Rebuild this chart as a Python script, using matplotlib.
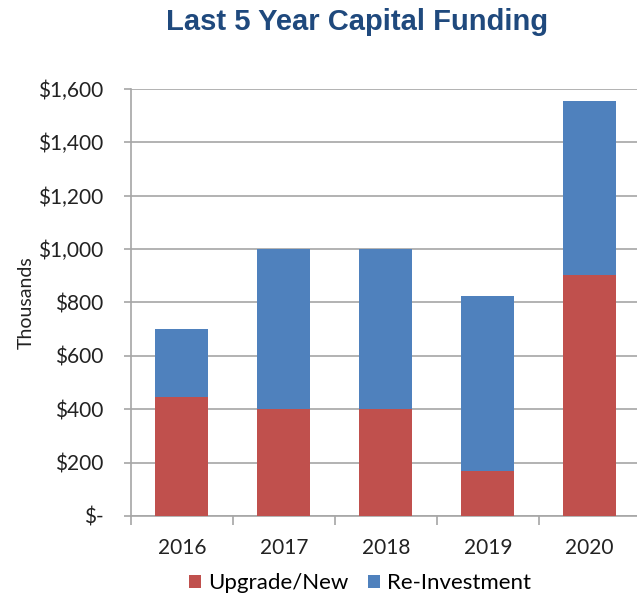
import numpy as np
import matplotlib
matplotlib.use("Agg")
import matplotlib.pyplot as plt
from matplotlib.ticker import FuncFormatter, FixedLocator

years = ["2016", "2017", "2018", "2019", "2020"]
upgrade_new = [446, 400, 400, 169, 903]
re_investment = [254, 600, 600, 655, 651]

red = "#C0504D"
blue = "#4F81BD"
grid_c = "#A6A6A6"

plt.rcParams['font.family'] = ['Lato', 'DejaVu Sans']

fig = plt.figure(figsize=(6.37, 5.97), dpi=100)
ax = fig.add_axes([0.2057, 0.1357, 0.80, 0.7152])

x = np.arange(len(years))
ax.bar(x, upgrade_new, width=0.52, color=red, label="Upgrade/New", zorder=3)
ax.bar(x, re_investment, width=0.52, bottom=upgrade_new, color=blue,
       label="Re-Investment", zorder=3)

ax.set_xlim(-0.5, 4.5)
ax.set_ylim(0, 1600)
ax.set_yticks(np.arange(0, 1601, 200))
ax.yaxis.set_major_formatter(FuncFormatter(lambda v, p: "$-" if v == 0 else "${:,.0f}".format(v)))
ax.grid(axis="y", color=grid_c, linewidth=1.2, zorder=0)

ax.set_xticks(x)
ax.set_xticklabels(years)
ax.xaxis.set_minor_locator(FixedLocator(np.arange(-0.5, 5.0, 1.0)))
ax.tick_params(axis="x", which="major", length=0, pad=16, labelsize=15, colors="#222222")
ax.tick_params(axis="x", which="minor", length=6.5, width=1.2, color=grid_c)
ax.tick_params(axis="y", length=5, width=1.2, color=grid_c, labelsize=15,
               labelcolor="#222222", pad=15)

for s in ["top", "right"]:
    ax.spines[s].set_visible(False)
for s in ["left", "bottom"]:
    ax.spines[s].set_color(grid_c)
    ax.spines[s].set_linewidth(1.2)

ax.set_ylabel("Thousands", fontsize=14, color="#222222", labelpad=2)

fig.text(0.561, 0.963, "Last 5 Year Capital Funding", ha="center", va="center",
         fontsize=21, fontweight="bold", color="#1F497D",
         family=['Liberation Sans Narrow', 'Liberation Sans', 'DejaVu Sans'])

fig.legend(loc="center", bbox_to_anchor=(0.565, 0.023), ncol=2, frameon=False,
           fontsize=16, handlelength=0.55, handleheight=0.55, handletextpad=0.3,
           columnspacing=0.9, borderaxespad=0)

fig.savefig("out.png", dpi=100)
